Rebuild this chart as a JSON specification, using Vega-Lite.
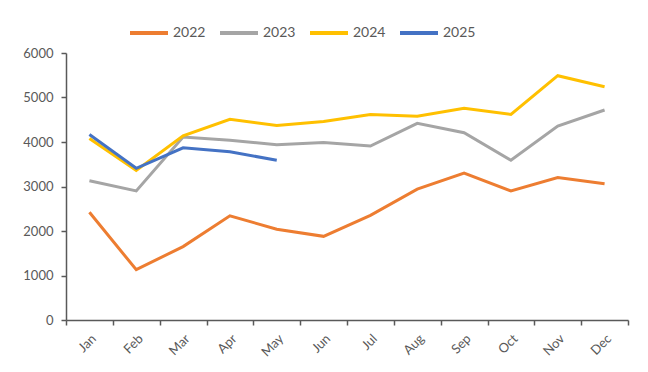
{
  "$schema": "https://vega.github.io/schema/vega-lite/v6.json",
  "width": 562,
  "height": 267,
  "autosize": {"type": "none"},
  "padding": {"left": 66, "top": 53, "right": 20, "bottom": 52},
  "background": "white",
  "config": {"view": {"stroke": null}, "font": "Lato"},
  "data": {
    "values": [
      {"month": "Jan", "year": "2022", "value": 2420},
      {"month": "Feb", "year": "2022", "value": 1130},
      {"month": "Mar", "year": "2022", "value": 1650},
      {"month": "Apr", "year": "2022", "value": 2340},
      {"month": "May", "year": "2022", "value": 2040},
      {"month": "Jun", "year": "2022", "value": 1880},
      {"month": "Jul", "year": "2022", "value": 2350},
      {"month": "Aug", "year": "2022", "value": 2940},
      {"month": "Sep", "year": "2022", "value": 3300},
      {"month": "Oct", "year": "2022", "value": 2900},
      {"month": "Nov", "year": "2022", "value": 3200},
      {"month": "Dec", "year": "2022", "value": 3060},
      {"month": "Jan", "year": "2023", "value": 3130},
      {"month": "Feb", "year": "2023", "value": 2900},
      {"month": "Mar", "year": "2023", "value": 4110},
      {"month": "Apr", "year": "2023", "value": 4040},
      {"month": "May", "year": "2023", "value": 3940},
      {"month": "Jun", "year": "2023", "value": 3990},
      {"month": "Jul", "year": "2023", "value": 3910},
      {"month": "Aug", "year": "2023", "value": 4420},
      {"month": "Sep", "year": "2023", "value": 4210},
      {"month": "Oct", "year": "2023", "value": 3590},
      {"month": "Nov", "year": "2023", "value": 4360},
      {"month": "Dec", "year": "2023", "value": 4720},
      {"month": "Jan", "year": "2024", "value": 4080},
      {"month": "Feb", "year": "2024", "value": 3360},
      {"month": "Mar", "year": "2024", "value": 4140},
      {"month": "Apr", "year": "2024", "value": 4510},
      {"month": "May", "year": "2024", "value": 4370},
      {"month": "Jun", "year": "2024", "value": 4460},
      {"month": "Jul", "year": "2024", "value": 4620},
      {"month": "Aug", "year": "2024", "value": 4580},
      {"month": "Sep", "year": "2024", "value": 4760},
      {"month": "Oct", "year": "2024", "value": 4620},
      {"month": "Nov", "year": "2024", "value": 5490},
      {"month": "Dec", "year": "2024", "value": 5240},
      {"month": "Jan", "year": "2025", "value": 4170},
      {"month": "Feb", "year": "2025", "value": 3410},
      {"month": "Mar", "year": "2025", "value": 3870},
      {"month": "Apr", "year": "2025", "value": 3780},
      {"month": "May", "year": "2025", "value": 3590}
    ]
  },
  "mark": {"type": "line", "strokeWidth": 3, "strokeJoin": "miter"},
  "encoding": {
    "x": {
      "field": "month",
      "type": "ordinal",
      "sort": ["Jan","Feb","Mar","Apr","May","Jun","Jul","Aug","Sep","Oct","Nov","Dec"],
      "scale": {"type": "band", "paddingInner": 0, "paddingOuter": 0},
      "axis": {
        "title": null,
        "labelAngle": -45,
        "labelFontSize": 13,
        "labelColor": "#595959",
        "labelPadding": 7,
        "tickBand": "extent",
        "tickSize": 5,
        "tickColor": "#595959",
        "tickWidth": 1.5,
        "domainColor": "#595959",
        "domainWidth": 1.5,
        "grid": false
      }
    },
    "y": {
      "field": "value",
      "type": "quantitative",
      "scale": {"domain": [0, 6000], "nice": false},
      "axis": {
        "title": null,
        "values": [0, 1000, 2000, 3000, 4000, 5000, 6000],
        "format": "d",
        "labelFontSize": 13,
        "labelColor": "#595959",
        "labelPadding": 8,
        "tickSize": 5,
        "tickColor": "#595959",
        "tickWidth": 1.5,
        "domainColor": "#595959",
        "domainWidth": 1.5,
        "grid": false
      }
    },
    "color": {
      "field": "year",
      "type": "nominal",
      "scale": {"domain": ["2022","2023","2024","2025"], "range": ["#ED7D31","#A5A5A5","#FFC000","#4472C4"]},
      "legend": {
        "title": null,
        "orient": "none",
        "direction": "horizontal",
        "legendX": 62,
        "legendY": -41,
        "symbolType": "stroke",
        "symbolSize": 1444,
        "symbolStrokeWidth": 4,
        "labelFontSize": 14,
        "labelColor": "#595959",
        "labelOffset": 3,
        "columnPadding": 6
      }
    }
  }
}
